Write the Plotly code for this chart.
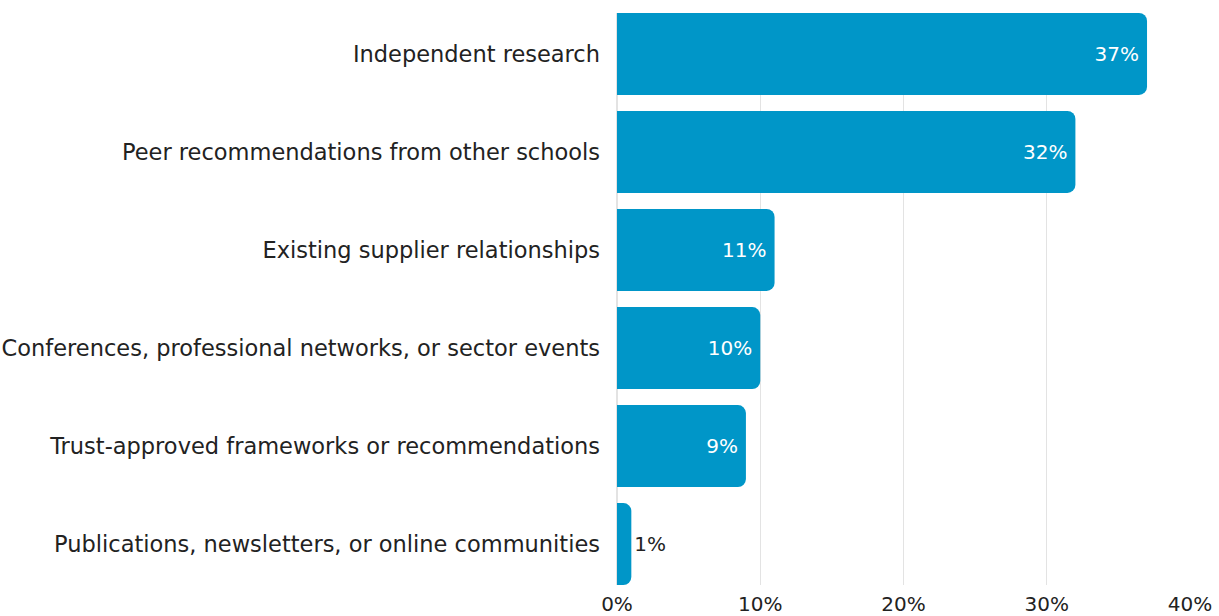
import plotly.graph_objects as go

# Survey shares by information source
categories = [
    "Independent research",
    "Peer recommendations from other schools",
    "Existing supplier relationships",
    "Conferences, professional networks, or sector events",
    "Trust-approved frameworks or recommendations",
    "Publications, newsletters, or online communities",
]
shares = [37, 32, 11, 10, 9, 1]
tick_values = [0, 10, 20, 30, 40]
tick_labels = ["0%", "10%", "20%", "30%", "40%"]

BAR_COLOR = "#0096C8"
TEXT_COLOR = "#222222"
FONT = "DejaVu Sans"

fig = go.Figure(
    go.Bar(
        x=shares,
        y=categories,
        orientation="h",
        marker=dict(color=BAR_COLOR, cornerradius=8, line=dict(width=0)),
        width=0.836,
        text=[f"{v}%" for v in shares],
        textposition="auto",
        insidetextanchor="end",
        insidetextfont=dict(color="white", size=20, family=FONT),
        outsidetextfont=dict(color=TEXT_COLOR, size=20, family=FONT),
        textangle=0,
        cliponaxis=False,
        hoverinfo="skip",
    )
)

fig.update_layout(
    width=1219,
    height=616,
    margin=dict(l=617, r=29, t=13, b=31, autoexpand=False),
    paper_bgcolor="white",
    plot_bgcolor="white",
    showlegend=False,
    font=dict(family=FONT, color=TEXT_COLOR, size=20),
    xaxis=dict(
        range=[0, 40],
        tickvals=tick_values,
        ticktext=tick_labels,
        showgrid=True,
        gridcolor="#e3e3e3",
        gridwidth=1,
        zeroline=True,
        zerolinecolor="#e3e3e3",
        showline=False,
        ticks="",
        automargin=False,
        tickfont=dict(size=20, color=TEXT_COLOR, family=FONT),
        ticklabelstandoff=5,
    ),
    yaxis=dict(
        categoryorder="array",
        categoryarray=categories,
        range=[5.418, -0.418],
        showgrid=False,
        zeroline=False,
        showline=False,
        ticks="",
        automargin=False,
        tickfont=dict(size=22.5, color=TEXT_COLOR, family=FONT),
        ticklabelstandoff=16,
    ),
)

fig.write_html("out.html")
